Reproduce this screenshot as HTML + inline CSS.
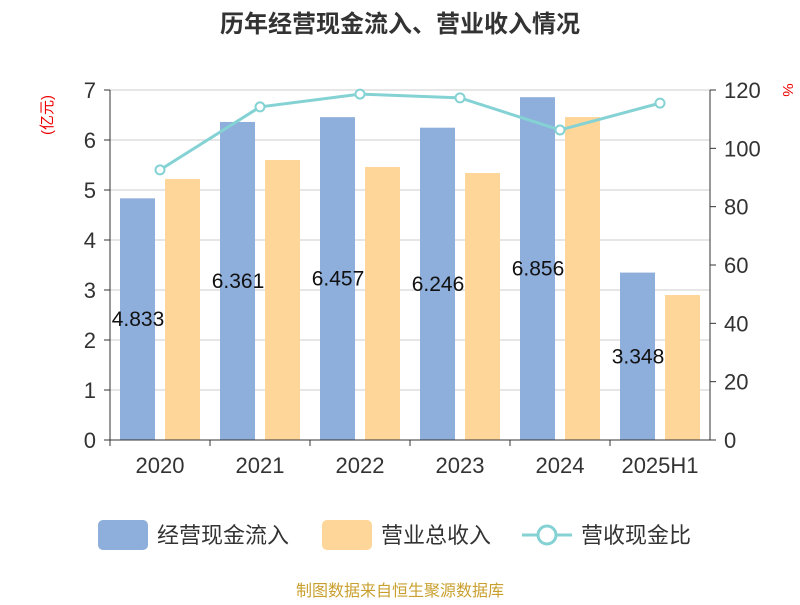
<!DOCTYPE html>
<html><head><meta charset="utf-8"><style>
body{margin:0;background:#fff;font-family:"Liberation Sans","Noto Sans CJK SC",sans-serif}
</style></head><body>
<svg width="800" height="600" viewBox="0 0 800 600" xmlns="http://www.w3.org/2000/svg" font-family="Liberation Sans, Noto Sans CJK SC, sans-serif">
<text x="400" y="32" text-anchor="middle" font-size="24" font-weight="bold" fill="#333">历年经营现金流入、营业收入情况</text>
<text transform="translate(52,115) rotate(-90)" text-anchor="middle" font-size="15" fill="#e00">(亿元)</text>
<text transform="translate(783,90) rotate(90)" text-anchor="middle" font-size="15" fill="#e00">%</text>
<g id="grid"></g><g id="bars"></g><g id="axes"></g><g id="line"></g><g id="labels"></g>
<g>
<rect x="98" y="520" width="50" height="30" rx="5" fill="#8eaedb"/>
<text x="157" y="543" font-size="22" fill="#333">经营现金流入</text>
<rect x="322" y="520" width="50" height="30" rx="5" fill="#fed699"/>
<text x="381" y="543" font-size="22" fill="#333">营业总收入</text>
<line x1="522" y1="535" x2="572" y2="535" stroke="#84d2d4" stroke-width="3"/>
<circle cx="547" cy="535" r="9" fill="#fff" stroke="#84d2d4" stroke-width="3"/>
<text x="581" y="543" font-size="22" fill="#333">营收现金比</text>
</g>
<text x="400" y="596" text-anchor="middle" font-size="16" fill="#c9a030">制图数据来自恒生聚源数据库</text>
</svg>
<script>
const categories=["2020","2021","2022","2023","2024","2025H1"];
const cashIn=[4.833,6.361,6.457,6.246,6.856,3.348];
const revenue=[5.22,5.6,5.46,5.34,6.46,2.9];
const ratio=[92.6,114.2,118.6,117.3,106.3,115.5];
const leftTicks=[0,1,2,3,4,5,6,7];
const rightTicks=[0,20,40,60,80,100,120];
const NS="http://www.w3.org/2000/svg";
const X0=110,X1=710,Y0=440,Y1=90;
const band=(X1-X0)/categories.length;
const yL=v=>Y0-(v/7)*(Y0-Y1);
const yR=v=>Y0-(v/120)*(Y0-Y1);
const xc=i=>X0+band*(i+0.5);
function mk(tag,attrs,parent){const e=document.createElementNS(NS,tag);for(const k in attrs)e.setAttribute(k,attrs[k]);document.getElementById(parent).appendChild(e);return e;}
leftTicks.forEach(t=>{
 if(t>0){const g=mk('line',{x1:X0,x2:X1,y1:yL(t),y2:yL(t),stroke:'#ccc','stroke-width':1},'grid');
 
 }
 const tx=mk('text',{x:X0-14,y:yL(t)+8,'text-anchor':'end','font-size':22,fill:'#333'},'axes');tx.textContent=t;
 
 
 mk('line',{x1:X0-6,x2:X0,y1:yL(t),y2:yL(t),stroke:'#333'},'axes');
});
rightTicks.forEach(t=>{
 const tx=mk('text',{x:X1+14,y:yR(t)+8,'font-size':22,fill:'#333'},'axes');tx.textContent=t;
 
 
 mk('line',{x1:X1,x2:X1+6,y1:yR(t),y2:yR(t),stroke:'#333'},'axes');
});
mk('line',{x1:X0,x2:X0,y1:Y1,y2:Y0,stroke:'#333'},'axes');
mk('line',{x1:X1,x2:X1,y1:Y1,y2:Y0,stroke:'#333'},'axes');
mk('line',{x1:X0,x2:X1,y1:Y0,y2:Y0,stroke:'#333'},'axes');
categories.forEach((c,i)=>{
 mk('line',{x1:X0+band*i,x2:X0+band*i,y1:Y0,y2:Y0+6,stroke:'#333'},'axes');
 const tx=mk('text',{x:xc(i),y:Y0+33,'text-anchor':'middle','font-size':22,fill:'#333'},'axes');tx.textContent=c;
 
 
 const b=mk('rect',{x:xc(i)-40,y:yL(cashIn[i]),width:35,height:Y0-yL(cashIn[i]),fill:'#8eaedb'},'bars');
 
 
 const r=mk('rect',{x:xc(i)+5,y:yL(revenue[i]),width:35,height:Y0-yL(revenue[i]),fill:'#fed699'},'bars');
 
 
 const l=mk('text',{x:xc(i)-22,y:(yL(cashIn[i])+Y0)/2+7,'text-anchor':'middle','font-size':21,fill:'#111'},'labels');l.textContent=cashIn[i];
 
 
});
mk('polyline',{points:ratio.map((v,i)=>xc(i)+','+yR(v)).join(' '),fill:'none',stroke:'#84d2d4','stroke-width':3},'line');
ratio.forEach((v,i)=>{
 const p=mk('circle',{cx:xc(i),cy:yR(v),r:4.5,fill:'#fff',stroke:'#84d2d4','stroke-width':2},'line');
 
 
});
</script>
</body></html>
